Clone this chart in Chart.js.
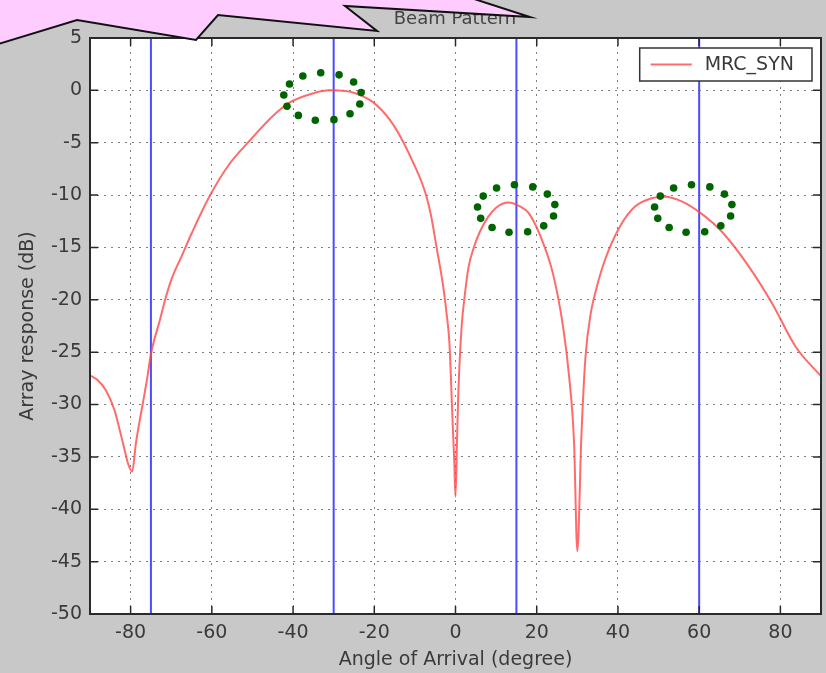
<!DOCTYPE html>
<html>
<head>
<meta charset="utf-8">
<script src="https://cdn.jsdelivr.net/npm/chart.js@4"></script>
<style>
  html, body { margin: 0; padding: 0; background: #c8c8c8; }
</style>
</head>
<body>
<canvas id="beamChart" width="826" height="673"></canvas>
<script>
// Beam pattern (angle in degrees, response in dB)
const angles = [
  -90, -88, -86, -84, -82, -80.5, -79.6, -78.7, -77, -76, -75, -72.7, -71.5, -69.9, -67.4, -64.9,
  -60.4, -55.8, -50.9, -45.1, -41, -35.2, -31, -27, -24.5, -20.4, -16.2, -12.9, -9.6, -8.3, -7.1, -6, -4.7, -3.0,
  -2.2, -1.5, -0.7, -0.3, 0, 0.4, 0.7, 1.5, 2.4, 3.2, 4.6, 6, 8, 10, 13, 16,
  18, 21, 24, 26.5, 28, 29.2, 30, 31, 32, 33.3, 34.5, 36.8, 40.5, 44.2, 48.3, 51.6,
  55.7, 60.3, 65.6, 72.2, 77.9, 83.8, 90
];
const response = [
  -27.2, -27.7, -28.7, -30.5, -33.5, -35.8, -36.4, -33.7, -29.9, -27.7, -25.2, -21.8, -20.0, -18.0, -15.8, -13.6,
  -10.0, -7.1, -4.9, -2.5, -1.2, -0.3, 0, -0.05, -0.3, -1.1, -2.8, -4.9, -7.6, -8.8, -10.2, -12.0, -14.9, -18.8,
  -21.3, -24.1, -31.8, -35.5, -38.8, -33, -28.9, -22.6, -19.2, -16.9, -14.9, -13.5, -12.1, -11.2, -10.7, -11.1,
  -11.7, -14, -17.5, -22.6, -27.4, -33.7, -44, -33, -25.5, -21.3, -19.2, -16.2, -13, -11.1, -10.3, -10.15,
  -10.6, -11.7, -13.5, -16.8, -20.3, -24.5, -27.3
];
const beamAngles = [-75, -30, 15, 60];
const peakAngles = [-32.7, 15, 58.6];
const peakLevels = [-0.6, -11.3, -11.3];
const xTicks = [-80, -60, -40, -20, 0, 20, 40, 60, 80];
const yTicks = [5, 0, -5, -10, -15, -20, -25, -30, -35, -40, -45, -50];
const seriesName = "MRC_SYN";

Chart.defaults.font.family = "'DejaVu Sans', sans-serif";
Chart.defaults.font.size = 19;
Chart.defaults.color = "#3a3a3a";

const curve = angles.map((a, i) => ({ x: a, y: response[i] }));

const datasets = [
  {
    label: seriesName,
    data: curve,
    borderColor: "rgba(255, 70, 70, 0.8)",
    borderWidth: 2,
    pointRadius: 0,
    cubicInterpolationMode: "monotone",
  },
];
beamAngles.forEach(a => {
  datasets.push({
    label: "beam " + a,
    data: [{ x: a, y: yTicks[yTicks.length - 1] }, { x: a, y: yTicks[0] }],
    borderColor: "#4b4bff",
    borderWidth: 2,
    pointRadius: 0,
  });
});

const decor = {
  id: "decor",
  beforeDraw(chart) {
    const { ctx, chartArea: a } = chart;
    ctx.save();
    ctx.fillStyle = "#c8c8c8";
    ctx.fillRect(0, 0, chart.width, chart.height);
    ctx.fillStyle = "#ffffff";
    ctx.fillRect(a.left, a.top, a.right - a.left, a.bottom - a.top);
    ctx.restore();
  },
  afterDatasetsDraw(chart) {
    const { ctx, chartArea: a } = chart;
    const xs = chart.scales.x, ys = chart.scales.y;
    ctx.save();

    // frame + inward tick marks (all four sides)
    ctx.strokeStyle = "#2a2a2a";
    ctx.lineWidth = 1.5;
    ctx.beginPath();
    xs.ticks.forEach(t => {
      const p = xs.getPixelForValue(t.value);
      ctx.moveTo(p, a.bottom); ctx.lineTo(p, a.bottom - 8);
      ctx.moveTo(p, a.top); ctx.lineTo(p, a.top + 8);
    });
    ys.ticks.forEach(t => {
      const p = ys.getPixelForValue(t.value);
      ctx.moveTo(a.left, p); ctx.lineTo(a.left + 8, p);
      ctx.moveTo(a.right, p); ctx.lineTo(a.right - 8, p);
    });
    ctx.stroke();
    ctx.lineWidth = 2;
    ctx.strokeRect(a.left, a.top, a.right - a.left, a.bottom - a.top);

    // legend box
    ctx.font = "19px 'DejaVu Sans', sans-serif";
    const tw = ctx.measureText(seriesName).width;
    const bw = 65 + tw + 18, bh = 33;
    const bx = a.right - 9 - bw, by = a.top + 10;
    ctx.fillStyle = "#ffffff";
    ctx.fillRect(bx, by, bw, bh);
    ctx.lineWidth = 1.5;
    ctx.strokeStyle = "#333";
    ctx.strokeRect(bx, by, bw, bh);
    ctx.strokeStyle = "rgba(255, 70, 70, 0.8)";
    ctx.lineWidth = 2;
    ctx.beginPath();
    ctx.moveTo(bx + 11, by + bh / 2);
    ctx.lineTo(bx + 52, by + bh / 2);
    ctx.stroke();
    ctx.fillStyle = "#3a3a3a";
    ctx.textBaseline = "middle";
    ctx.fillText(seriesName, bx + 65, by + bh / 2 + 1);

    // dotted green rings around the peaks
    ctx.fillStyle = "#006400";
    peakAngles.forEach((pa, k) => {
      const cx = xs.getPixelForValue(pa), cy = ys.getPixelForValue(peakLevels[k]);
      for (let i = 0; i < 13; i++) {
        const t = Math.PI + 0.07 + i * 2 * Math.PI / 13;
        ctx.beginPath();
        ctx.arc(cx + 39 * Math.cos(t), cy + 24 * Math.sin(t), 3.8, 0, 2 * Math.PI);
        ctx.fill();
      }
    });
    ctx.restore();
  },
  afterDraw(chart) {
    const { ctx } = chart;
    ctx.save();
    ctx.font = "18px 'DejaVu Sans', sans-serif";
    ctx.fillStyle = "#444";
    ctx.textAlign = "center";
    ctx.textBaseline = "middle";
    ctx.fillText("Beam Pattern", 455, 19);

    // pink callout over the title
    ctx.beginPath();
    ctx.moveTo(-5, -3);
    ctx.lineTo(-5, 45);
    ctx.lineTo(77, 20);
    ctx.lineTo(196, 40);
    ctx.lineTo(218, 15);
    ctx.lineTo(377, 31);
    ctx.lineTo(345, 6);
    ctx.lineTo(530, 17);
    ctx.lineTo(468, -3);
    ctx.closePath();
    ctx.fillStyle = "#ffccff";
    ctx.fill();
    ctx.strokeStyle = "#111";
    ctx.lineWidth = 2;
    ctx.stroke();
    ctx.restore();
  },
};

const ctx = document.getElementById("beamChart").getContext("2d");
const beamChart = new Chart(ctx, {
  type: "line",
  data: { datasets: datasets },
  options: {
    responsive: false,
    animation: false,
    layout: { padding: { left: 0, right: 5, top: 38, bottom: 0 } },
    plugins: { legend: { display: false }, tooltip: { enabled: false } },
    scales: {
      x: {
        type: "linear",
        min: -90,
        max: 90,
        afterBuildTicks: s => { s.ticks = xTicks.map(v => ({ value: v })); },
        afterFit: s => { s.height = 59; },
        ticks: { autoSkip: false, maxRotation: 0, padding: 8 },
        grid: { color: "rgba(0,0,0,0.5)", lineWidth: 1, drawTicks: false },
        border: { display: false, dash: [2, 5] },
        title: { display: true, text: "Angle of Arrival (degree)", padding: { top: 0, bottom: 2 } },
      },
      y: {
        type: "linear",
        min: -50,
        max: 5,
        afterBuildTicks: s => { s.ticks = yTicks.map(v => ({ value: v })); },
        afterFit: s => { s.width = 90; },
        ticks: { autoSkip: false, padding: 8 },
        grid: { color: "rgba(0,0,0,0.5)", lineWidth: 1, drawTicks: false },
        border: { display: false, dash: [2, 5] },
        title: { display: true, text: "Array response (dB)", padding: { top: 17, bottom: 0 } },
      },
    },
  },
  plugins: [decor],
});
</script>
</body>
</html>
